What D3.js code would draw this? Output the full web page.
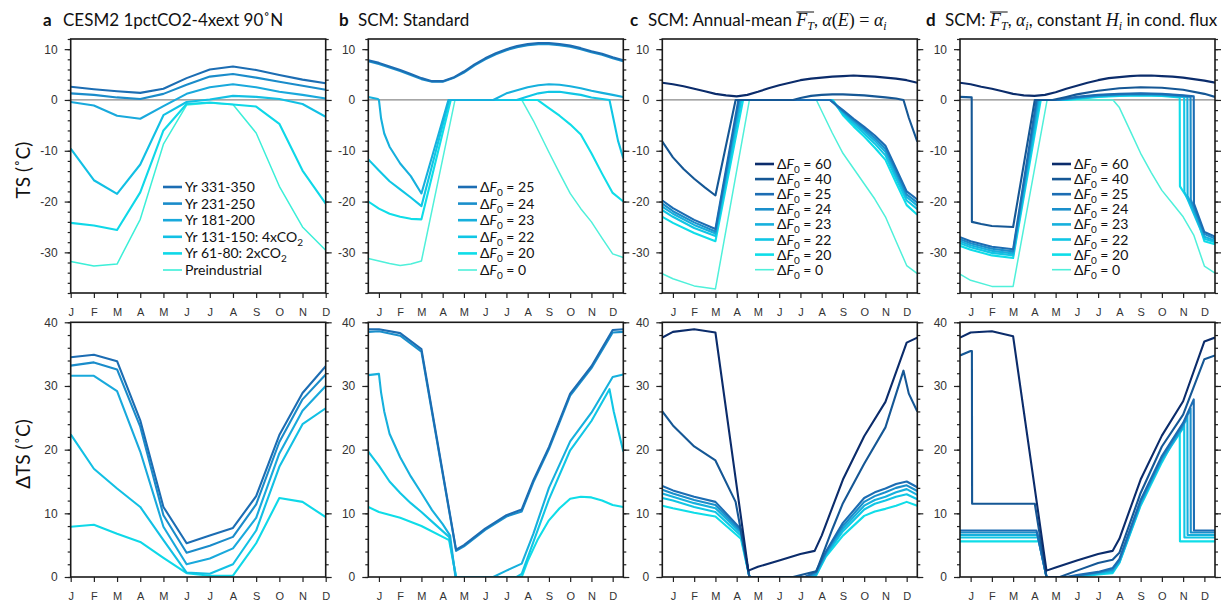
<!DOCTYPE html>
<html>
<head>
<meta charset="utf-8">
<title>TS seasonal cycle, CESM2 and SCM</title>
<style>
  body { margin: 0; background: #fff; }
  svg { display: block; }
  text { white-space: pre; }
</style>
</head>
<body>
<svg></svg>
<script src="https://d3js.org/d3.v7.min.js"></script>
<script>
// ---------- data ----------
var monthLabels = ["J","F","M","A","M","J","J","A","S","O","N","D"];
var monthNums = [1,2,3,4,5,6,7,8,9,10,11,12];

// panel a: CESM2 monthly TS (top) and dTS vs preindustrial (bottom)
var aNames = ["Yr 331-350", "Yr 231-250", "Yr 181-200", "Yr 131-150: 4xCO", "Yr 61-80: 2xCO", "Preindustrial"];
var aColors = ["#1c6db3", "#1a8cca", "#19a9dc", "#12c0e4", "#0fd8e8", "#3cefd8"];
var aTop331 = [2.6, 2.1, 1.7, 1.4, 2.2, 4.3, 6.0, 6.6, 5.9, 4.9, 4.0, 3.3];
var aTop231 = [1.3, 1.0, 0.5, 0.2, 1.2, 3.0, 4.6, 5.1, 4.4, 3.6, 2.8, 2.0];
var aTop181 = [-0.4, -1.1, -3.1, -3.7, -1.2, 1.2, 2.5, 3.1, 2.5, 1.6, 1.0, 0.3];
var aTop131 = [-9.6, -15.8, -18.5, -12.7, -3.0, -0.4, 0.1, 0.8, 0.6, 0.2, -0.8, -3.3];
var aTop61 = [-24.2, -24.7, -25.6, -18.2, -6.0, -0.8, -0.5, -0.9, -1.3, -4.7, -13.9, -20.4];
var aTopPI = [-31.8, -32.7, -32.3, -23.5, -8.7, -1.0, -0.6, -0.9, -6.5, -17.0, -25.0, -29.6];
var aDel331 = [34.5, 34.9, 33.9, 24.6, 11.0, 5.3, 6.5, 7.7, 12.7, 22.3, 28.9, 33.1];
var aDel231 = [33.2, 33.7, 32.6, 23.6, 9.7, 3.8, 4.9, 6.3, 11.4, 21.2, 27.9, 31.8];
var aDel181 = [31.6, 31.6, 29.2, 19.7, 7.9, 2.0, 2.9, 4.5, 9.3, 19.4, 26.1, 30.0];
var aDel131 = [22.4, 17.0, 13.9, 11.0, 5.8, 0.7, 0.5, 2.0, 7.3, 17.3, 24.0, 26.5];
var aDel61 = [7.9, 8.2, 6.8, 5.5, 3.0, 0.6, 0.2, 0.2, 5.3, 12.4, 11.8, 9.4];

// SCM runs: [month, value] pairs
var scmNames = ["60", "40", "25", "24", "23", "22", "20", "0"];
var scmColors = ["#0b2c6b", "#155795", "#1c6db3", "#1a8fcb", "#16b0dd", "#10c6e5", "#0fdde8", "#4ff0da"];

// panel b: standard
var bTop25 = [[0.5,7.8],[1,7.3],[1.5,6.6],[2,5.9],[2.5,5.1],[3,4.3],[3.5,3.7],[4,3.7],[4.5,4.4],[5,5.6],[5.5,7.0],[6,8.2],[6.5,9.2],[7,10.0],[7.5,10.6],[8,11.0],[8.5,11.2],[9,11.2],[9.5,11.0],[10,10.7],[10.5,10.2],[11,9.6],[11.5,9.1],[12,8.4],[12.5,7.8]];
var bTop24 = [[0.5,7.6],[1,7.1],[1.5,6.4],[2,5.7],[2.5,4.9],[3,4.1],[3.5,3.6],[4,3.6],[4.5,4.3],[5,5.4],[5.5,6.8],[6,8.0],[6.5,9.0],[7,9.8],[7.5,10.4],[8,10.8],[8.5,11.0],[9,11.0],[9.5,10.8],[10,10.5],[10.5,10.0],[11,9.4],[11.5,8.9],[12,8.2],[12.5,7.6]];
var bTop23 = [[0.5,0.6],[0.95,0.2],[1.0,0],[1.1,-3.6],[1.25,-6.6],[1.5,-9.2],[2,-12.5],[2.5,-15.0],[3,-18.4],[4.27,0],[6.38,0],[7,1.3],[7.5,1.9],[8,2.5],[8.5,2.9],[9,3.1],[9.5,3.0],[10,2.7],[10.5,2.3],[11,1.8],[11.5,1.4],[12,1.0],[12.5,0.6]];
var bTop22 = [[0.5,-11.7],[1,-13.9],[1.5,-16.0],[2,-17.6],[2.5,-19.2],[3,-20.9],[4.31,0],[7.48,0],[8,0.7],[8.5,1.3],[9,1.6],[9.5,1.6],[10,1.3],[10.5,1.0],[11,0.5],[11.85,0],[12.05,-4.0],[12.25,-8.0],[12.5,-11.5]];
var bTop20 = [[0.5,-20.0],[1,-21.4],[1.5,-22.4],[2,-23.0],[2.5,-23.4],[3,-23.5],[4.38,0],[8.46,0],[8.9,-1.3],[9.5,-3.1],[10,-4.8],[10.5,-6.8],[11,-10.5],[11.5,-14.5],[12,-18.3],[12.5,-20.0]];
var bTop0 = [[0.5,-31.2],[1,-31.7],[1.5,-32.2],[2,-32.6],[2.5,-32.3],[3,-31.7],[4.58,0],[7.72,0],[8.27,-4.1],[9,-10.3],[9.5,-14.4],[10,-18.4],[10.5,-21.4],[11,-24.0],[11.5,-27.2],[12,-30.3],[12.5,-31.0]];
var bDel25 = [[0.5,38.9],[1,38.9],[2,38.3],[3,35.8],[4.63,4.3],[5,5.0],[6,7.6],[7,9.7],[7.72,10.6],[8.27,15.2],[9,20.4],[10,28.8],[11,33.1],[12,38.8],[12.5,38.9]];
var bDel24 = [[0.5,38.5],[1,38.6],[2,37.9],[3,35.4],[4.63,4.1],[5,4.8],[6,7.4],[7,9.5],[7.72,10.3],[8.27,14.9],[9,20.1],[10,28.5],[11,32.8],[12,38.4],[12.5,38.5]];
var bDel23 = [[0.5,31.7],[1,31.9],[1.1,29.0],[1.25,26.0],[1.5,22.5],[2,18.8],[2.5,15.8],[3,13.2],[3.5,10.5],[4,8.3],[4.35,6.5],[4.6,0],[6.38,0],[7,1.0],[7.72,2.1],[8.27,6.8],[9,14.0],[10,21.3],[11,25.8],[12,31.4],[12.5,31.8]];
var bDel22 = [[0.5,19.7],[1,17.5],[1.5,15.0],[2,13.2],[2.5,11.6],[3,10.2],[3.5,8.7],[4.3,6.3],[4.63,0],[7.48,0],[7.72,0.5],[8.27,5.5],[9,12.2],[10,19.9],[11,24.5],[11.85,29.5],[12.05,26.0],[12.5,19.7]];
var bDel20 = [[0.5,11.0],[1,10.2],[2,9.3],[3,8.0],[4.3,5.8],[4.63,0],[7.72,0],[8.0,2.5],[8.46,5.8],[9,8.9],[9.5,10.8],[10,12.3],[10.5,12.6],[11,12.5],[11.5,12.0],[12,11.3],[12.5,11.0]];

// panel c: annual-mean F_T, alpha(E) = alpha_i
var cTop60 = [[0.5,3.4],[1,3.1],[1.5,2.7],[2,2.2],[2.5,1.7],[3,1.2],[3.5,0.9],[4,0.7],[4.5,1.0],[5,1.6],[5.5,2.3],[6,2.9],[6.5,3.4],[7,3.9],[7.5,4.2],[8,4.4],[8.5,4.6],[9,4.7],[9.5,4.8],[10,4.7],[10.5,4.6],[11,4.4],[11.5,4.2],[12,3.9],[12.5,3.4]];
var cTop40 = [[0.5,-8.2],[1,-11.3],[1.5,-13.6],[2,-15.5],[2.5,-17.2],[3,-18.8],[3.95,0],[6.65,0],[7,0.4],[7.5,0.8],[8,1.0],[8.5,1.1],[9,1.1],[9.5,1.0],[10,0.9],[10.5,0.7],[11,0.5],[11.5,0.3],[11.85,0],[12.1,-3.5],[12.5,-8.2]];
var cTop25 = [[0.5,-19.8],[1,-21.3],[2,-23.6],[3,-25.4],[4.08,0],[8.38,0],[9,-2.0],[9.5,-3.7],[10,-5.3],[10.5,-7.0],[11,-9.0],[11.5,-13.5],[12,-18.0],[12.5,-19.6]];
var cTop24 = [[0.5,-20.4],[1,-21.9],[2,-24.1],[3,-25.9],[4.12,0],[8.41,0],[9,-2.2],[9.5,-4.0],[10,-5.7],[10.5,-7.5],[11,-9.6],[11.5,-14.1],[12,-18.6],[12.5,-20.2]];
var cTop23 = [[0.5,-21.0],[1,-22.4],[2,-24.6],[3,-26.3],[4.17,0],[8.44,0],[9,-2.4],[9.5,-4.3],[10,-6.1],[10.5,-8.0],[11,-10.2],[11.5,-14.7],[12,-19.1],[12.5,-20.8]];
var cTop22 = [[0.5,-21.7],[1,-23.0],[2,-25.2],[3,-26.8],[4.22,0],[8.48,0],[9,-2.7],[9.5,-4.7],[10,-6.6],[10.5,-8.6],[11,-10.9],[11.5,-15.4],[12,-19.8],[12.5,-21.5]];
var cTop20 = [[0.5,-23.0],[1,-24.2],[2,-26.2],[3,-27.8],[4.3,0],[8.53,0],[9,-3.0],[9.5,-5.2],[10,-7.2],[10.5,-9.4],[11,-11.8],[11.5,-16.3],[12,-20.7],[12.5,-22.6]];
var cTop0 = [[0.5,-34.2],[1,-35.2],[2,-36.6],[3,-37.2],[4.6,0],[7.75,0],[8.5,-6.5],[9,-10.5],[9.5,-13.5],[10,-16.5],[10.5,-19.5],[11,-23.0],[11.5,-27.8],[12,-32.6],[12.5,-34.2]];
var cDel60 = [[0.5,37.6],[1,38.5],[2,38.9],[3,38.4],[4.55,1.0],[5,1.6],[6,2.6],[7,3.6],[7.67,4.1],[8,6.5],[9,15.3],[10,22.1],[11,27.5],[12,36.8],[12.5,37.6]];
var cDel40 = [[0.5,26.0],[1,23.8],[2,20.5],[3,18.3],[3.95,11.8],[4.6,0],[6.65,0],[7.5,0.7],[7.75,0.9],[8.5,7.5],[9,11.6],[10,17.8],[11,23.5],[11.85,32.4],[12.1,28.8],[12.5,26.0]];
var cDel25 = [[0.5,14.3],[1,13.6],[2,12.6],[3,11.8],[4.2,7.5],[4.6,0],[7.2,0],[7.72,0.8],[8.2,4.0],[9,8.5],[10,12.4],[10.5,13.3],[11,13.9],[11.5,14.6],[12,15.0],[12.5,14.1]];
var cDel24 = [[0.5,13.7],[1,13.1],[2,12.1],[3,11.3],[4.2,7.2],[4.6,0],[7.3,0],[7.72,0.6],[8.2,3.8],[9,8.0],[10,11.8],[10.5,12.7],[11,13.3],[11.5,14.0],[12,14.4],[12.5,13.5]];
var cDel23 = [[0.5,13.1],[1,12.6],[2,11.6],[3,10.8],[4.2,6.9],[4.6,0],[7.4,0],[7.72,0.4],[8.2,3.6],[9,7.6],[10,11.2],[10.5,12.1],[11,12.6],[11.5,13.3],[12,13.8],[12.5,12.9]];
var cDel22 = [[0.5,12.4],[1,12.0],[2,11.0],[3,10.2],[4.2,6.5],[4.6,0],[7.5,0],[7.72,0.2],[8.2,3.4],[9,7.2],[10,10.6],[10.5,11.5],[11,12.0],[11.5,12.6],[12,13.0],[12.5,12.2]];
var cDel20 = [[0.5,11.2],[1,10.8],[2,10.1],[3,9.5],[4.2,6.0],[4.6,0],[7.7,0],[8.2,3.2],[9,6.5],[10,9.6],[10.5,10.3],[11,10.7],[11.5,11.2],[12,11.8],[12.5,11.2]];

// panel d: F_T, alpha_i, constant H_i in conductive flux
var dTop60 = [[0.5,3.4],[1,3.1],[1.5,2.6],[2,2.2],[2.5,1.7],[3,1.2],[3.5,0.9],[4,0.8],[4.5,1.0],[5,1.5],[5.5,2.2],[6,2.8],[6.5,3.4],[7,3.9],[7.5,4.3],[8,4.5],[8.5,4.7],[9,4.8],[9.5,4.8],[10,4.7],[10.5,4.6],[11,4.4],[11.5,4.1],[12,3.8],[12.5,3.4]];
var dTop40 = [[0.5,0.6],[1.05,0.5],[1.06,-24.0],[1.5,-24.4],[2,-24.8],[3,-25.0],[4.02,0],[4.85,0],[5.5,0.6],[6,1.1],[7,1.8],[8,2.3],[9,2.5],[10,2.4],[11,2.0],[12,1.2],[12.5,0.6]];
var dTop25 = [[0.5,-27.0],[1,-27.8],[2,-28.9],[3,-29.4],[4.1,0],[5.0,0],[6,0.6],[7,1.0],[8,1.2],[9,1.3],[10,1.2],[11,0.9],[11.5,0.7],[11.51,-20.4],[12,-26.0],[12.5,-26.9]];
var dTop24 = [[0.5,-27.4],[1,-28.2],[2,-29.3],[3,-29.8],[4.15,0],[5.1,0],[6,0.5],[7,0.9],[8,1.1],[9,1.2],[10,1.1],[11,0.8],[11.35,0.6],[11.36,-19.6],[12,-26.4],[12.5,-27.3]];
var dTop23 = [[0.5,-27.8],[1,-28.6],[2,-29.7],[3,-30.2],[4.2,0],[5.2,0],[6,0.4],[7,0.8],[8,1.0],[9,1.1],[10,1.0],[11,0.7],[11.2,0.6],[11.21,-18.9],[12,-26.9],[12.5,-27.7]];
var dTop22 = [[0.5,-28.2],[1,-29.0],[2,-30.1],[3,-30.6],[4.25,0],[5.3,0],[6,0.3],[7,0.7],[8,0.9],[9,1.0],[10,0.9],[11,0.6],[11.05,0.5],[11.06,-18.1],[12,-27.3],[12.5,-28.0]];
var dTop20 = [[0.5,-28.7],[1,-29.5],[2,-30.6],[3,-31.1],[4.3,0],[5.5,0],[6,0.2],[7,0.6],[8,0.8],[9,0.9],[10,0.8],[10.84,0.5],[10.85,-17.0],[11.5,-21.2],[12,-27.8],[12.5,-28.4]];
var dTop0 = [[0.5,-34.3],[1,-35.5],[2,-36.7],[3,-36.7],[4.6,0],[7.7,0],[8,-1.5],[8.5,-6.0],[9,-10.5],[9.5,-14.3],[10,-17.8],[10.5,-20.4],[11,-23.0],[11.5,-26.6],[12,-32.7],[12.5,-34.1]];
var dDel60 = [[0.5,37.6],[1,38.4],[2,38.6],[3,37.8],[4.57,1.0],[5,1.5],[6,2.6],[7,3.6],[7.68,4.1],[8,6.0],[9,15.3],[10,22.2],[11,27.6],[12,37.0],[12.5,37.6]];
var dDel40 = [[0.5,34.8],[1,35.5],[1.06,35.5],[1.07,11.5],[4.02,11.5],[4.57,0],[5.2,0],[6,1.0],[7,2.2],[7.68,2.7],[8,3.8],[9,13.2],[10,20.5],[11,25.5],[12,34.2],[12.5,34.8]];
var dDel25 = [[0.5,7.3],[4.1,7.3],[4.57,0],[5.5,0],[6,0.3],[7,0.8],[7.68,1.4],[8,2.8],[9,12.1],[10,19.0],[11,24.2],[11.5,27.9],[11.51,7.3],[12.5,7.3]];
var dDel24 = [[0.5,7.0],[4.12,7.0],[4.57,0],[5.6,0],[6,0.2],[7,0.7],[7.68,1.2],[8,2.6],[9,11.8],[10,18.7],[11,23.9],[11.35,26.5],[11.36,7.0],[12.5,7.0]];
var dDel23 = [[0.5,6.6],[4.15,6.6],[4.57,0],[5.7,0],[6,0.1],[7,0.6],[7.68,1.0],[8,2.4],[9,11.6],[10,18.5],[11,23.6],[11.2,25.3],[11.21,6.6],[12.5,6.6]];
var dDel22 = [[0.5,6.2],[4.2,6.2],[4.57,0],[5.8,0],[7,0.5],[7.68,0.8],[8,2.3],[9,11.4],[10,18.3],[11,23.4],[11.05,23.9],[11.06,6.2],[12.5,6.2]];
var dDel20 = [[0.5,5.6],[4.25,5.6],[4.57,0],[6,0],[7,0.4],[7.68,0.6],[8,2.2],[9,11.2],[10,18.0],[10.84,23.2],[10.85,5.6],[12.5,5.6]];

// ---------- layout ----------
var W = 1225, H = 601;
var panelLeft = [70.7, 368.3, 662.3, 960];
var panelW = 255;
var rowTop = [39, 322.3], rowBot = [293, 577];
var topDomain = [-38, 12], botDomain = [0, 40];

var svg = d3.select("svg").attr("width", W).attr("height", H)
    .style("font-family", "'Liberation Sans', Arial, sans-serif");

function pairs(vals) { return vals.map(function(v, i) { return [monthNums[i], v]; }); }

// build series lists for every panel
var aTopSeries = [aTop331, aTop231, aTop181, aTop131, aTop61, aTopPI].map(function(v, i) {
    return {color: aColors[i], data: pairs(v), thin: i == 5}; });
var aDelSeries = [aDel331, aDel231, aDel181, aDel131, aDel61].map(function(v, i) {
    return {color: aColors[i], data: pairs(v)}; });

function scm(list, idx) {
    return list.map(function(d, i) { return {color: scmColors[idx[i]], data: d, thin: scmNames[idx[i]] == "0"}; });
}
var bTopSeries = scm([bTop25, bTop24, bTop23, bTop22, bTop20, bTop0], [2,3,4,5,6,7]);
var bDelSeries = scm([bDel25, bDel24, bDel23, bDel22, bDel20], [2,3,4,5,6]);
var cTopSeries = scm([cTop60, cTop40, cTop25, cTop24, cTop23, cTop22, cTop20, cTop0], [0,1,2,3,4,5,6,7]);
var cDelSeries = scm([cDel60, cDel40, cDel25, cDel24, cDel23, cDel22, cDel20], [0,1,2,3,4,5,6]);
var dTopSeries = scm([dTop60, dTop40, dTop25, dTop24, dTop23, dTop22, dTop20, dTop0], [0,1,2,3,4,5,6,7]);
var dDelSeries = scm([dDel60, dDel40, dDel25, dDel24, dDel23, dDel22, dDel20], [0,1,2,3,4,5,6]);

function drawPanel(col, row, series, xDomain) {
    var x0 = panelLeft[col], y0 = rowTop[row], y1 = rowBot[row];
    var x = d3.scaleLinear().domain(xDomain).range([x0, x0 + panelW]);
    var dom = row == 0 ? topDomain : botDomain;
    var y = d3.scaleLinear().domain(dom).range([y1, y0]);
    var g = svg.append("g");
    var cid = "clip" + col + "_" + row;
    g.append("clipPath").attr("id", cid).append("rect")
        .attr("x", x0).attr("y", y0).attr("width", panelW).attr("height", y1 - y0);

    var major = row == 0 ? [10, 0, -10, -20, -30] : [0, 10, 20, 30, 40];
    var minor = d3.range(dom[0], dom[1] + 0.1, 2);

    // y axes, left with labels and right without
    var left = g.append("g").attr("transform", "translate(" + x0 + ",0)")
        .call(d3.axisLeft(y).tickValues(major).tickSize(6).tickPadding(7).tickFormat(function(d) { return String(d); }));
    left.selectAll("text").style("font-size", "12px").style("fill", "#333").style("font-family", "'Liberation Sans', Arial, sans-serif");
    g.append("g").attr("transform", "translate(" + x0 + ",0)")
        .call(d3.axisLeft(y).tickValues(minor).tickSize(3).tickFormat(""));
    g.append("g").attr("transform", "translate(" + (x0 + panelW) + ",0)")
        .call(d3.axisRight(y).tickValues(major).tickSize(6).tickFormat(""));
    g.append("g").attr("transform", "translate(" + (x0 + panelW) + ",0)")
        .call(d3.axisRight(y).tickValues(minor).tickSize(3).tickFormat(""));
    var bottom = g.append("g").attr("transform", "translate(0," + y1 + ")")
        .call(d3.axisBottom(x).tickValues(monthNums).tickSize(5).tickPadding(10)
            .tickFormat(function(d, i) { return monthLabels[i]; }));
    bottom.selectAll("text").style("font-size", "11px").style("fill", "#333").style("font-family", "'Liberation Sans', Arial, sans-serif");
    g.selectAll(".domain").remove();
    g.selectAll(".tick line").attr("stroke", "#222").attr("stroke-width", 1.2);

    if (row == 0) {
        g.append("line").attr("x1", x0).attr("x2", x0 + panelW)
            .attr("y1", y(0)).attr("y2", y(0)).attr("stroke", "#888").attr("stroke-width", 1.2);
    }

    var line = d3.line().x(function(d) { return x(d[0]); }).y(function(d) { return y(d[1]); });
    var lg = g.append("g").attr("clip-path", "url(#" + cid + ")");
    // draw light lines first so the darker ones sit on top
    series.slice().reverse().forEach(function(s) {
        lg.append("path").datum(s.data).attr("d", line)
            .attr("fill", "none").attr("stroke", s.color)
            .attr("stroke-width", s.thin ? 1.5 : 2.1)
            .attr("stroke-linejoin", "round");
    });

    g.append("rect").attr("x", x0).attr("y", y0).attr("width", panelW).attr("height", y1 - y0)
        .attr("fill", "none").attr("stroke", "#1a1a1a").attr("stroke-width", 1.6);
}

drawPanel(0, 0, aTopSeries, [1, 12]);
drawPanel(0, 1, aDelSeries, [1, 12]);
drawPanel(1, 0, bTopSeries, [0.5, 12.5]);
drawPanel(1, 1, bDelSeries, [0.5, 12.5]);
drawPanel(2, 0, cTopSeries, [0.5, 12.5]);
drawPanel(2, 1, cDelSeries, [0.5, 12.5]);
drawPanel(3, 0, dTopSeries, [0.5, 12.5]);
drawPanel(3, 1, dDelSeries, [0.5, 12.5]);

// ---------- legends ----------
function legendA(lx, ly, dy) {
    aNames.forEach(function(n, i) {
        var yy = ly + i * dy;
        svg.append("line").attr("x1", lx).attr("x2", lx + 19).attr("y1", yy).attr("y2", yy)
            .attr("stroke", aColors[i]).attr("stroke-width", i == 5 ? 1.6 : 2.6);
        var t = svg.append("text").attr("x", lx + 22).attr("y", yy + 5)
            .style("font-family", "Lato, sans-serif").style("font-size", "14px").style("fill", "#111");
        t.append("tspan").text(n);
        if (i == 3 || i == 4) {
            t.append("tspan").attr("dy", 4).style("font-size", "10px").text("2");
        }
    });
}
function legendSCM(lx, ly, dy, idx) {
    idx.forEach(function(k, i) {
        var yy = ly + i * dy;
        svg.append("line").attr("x1", lx).attr("x2", lx + 19).attr("y1", yy).attr("y2", yy)
            .attr("stroke", scmColors[k]).attr("stroke-width", scmNames[k] == "0" ? 1.6 : 2.6);
        var t = svg.append("text").attr("x", lx + 22).attr("y", yy + 5)
            .style("font-family", "Lato, sans-serif").style("font-size", "14px").style("fill", "#111");
        t.append("tspan").text("\u0394");
        t.append("tspan").style("font-style", "italic").text("F");
        t.append("tspan").attr("dy", 4).style("font-size", "10px").text("0");
        t.append("tspan").attr("dy", -4).text(" = " + scmNames[k]);
    });
}
legendA(163, 187, 16.6);
legendSCM(458, 187, 16.6, [2,3,4,5,6,7]);
legendSCM(755, 164, 15.1, [0,1,2,3,4,5,6,7]);
legendSCM(1052, 164, 15.1, [0,1,2,3,4,5,6,7]);

// ---------- titles ----------
function rich(x, y, parts) {
    var cx = x, ovStart = null;
    parts.forEach(function(p) {
        var t = svg.append("text").attr("x", cx).attr("y", y + (p.sub ? 4 : 0))
            .style("font-family", p.math ? "'Liberation Serif', 'DejaVu Serif', serif" : "Lato, sans-serif")
            .style("font-size", (p.sub ? 12 : (p.math ? 18 : 17)) + "px")
            .style("font-style", p.it ? "italic" : "normal")
            .style("font-weight", p.bold ? "bold" : "normal")
            .style("fill", "#111")
            .text(p.t);
        if (p.ovs) ovStart = cx;
        cx += t.node().getComputedTextLength();
        if (p.ove) {
            svg.append("line").attr("x1", ovStart).attr("x2", cx).attr("y1", y - 14).attr("y2", y - 14)
                .attr("stroke", "#111").attr("stroke-width", 1);
        }
    });
}
rich(43, 26, [{t: "a", bold: true}]);
rich(63, 26, [{t: "CESM2 1pctCO2-4xext 90\u02DAN"}]);
rich(339, 26, [{t: "b", bold: true}]);
rich(358, 26, [{t: "SCM: Standard"}]);
rich(630, 26, [{t: "c", bold: true}]);
rich(648, 26, [{t: "SCM: Annual-mean "}, {t: "F", math: true, it: true, ovs: true},
    {t: "T", math: true, it: true, sub: true, ove: true}, {t: ", "},
    {t: "\u03B1", math: true, it: true}, {t: "(", math: true}, {t: "E", math: true, it: true},
    {t: ") = ", math: true}, {t: "\u03B1", math: true, it: true}, {t: "i", math: true, it: true, sub: true}]);
rich(926, 26, [{t: "d", bold: true}]);
rich(945, 26, [{t: "SCM: "}, {t: "F", math: true, it: true, ovs: true},
    {t: "T", math: true, it: true, sub: true, ove: true}, {t: ", "},
    {t: "\u03B1", math: true, it: true}, {t: "i", math: true, it: true, sub: true},
    {t: ", constant "}, {t: "H", math: true, it: true}, {t: "i", math: true, it: true, sub: true},
    {t: " in cond. flux"}]);

// ---------- y labels ----------
svg.append("text").attr("transform", "translate(30,170) rotate(-90)")
    .attr("text-anchor", "middle").style("font-family", "Lato, sans-serif").style("font-size", "19px")
    .style("fill", "#111").text("TS (\u02DAC)");
svg.append("text").attr("transform", "translate(30,454) rotate(-90)")
    .attr("text-anchor", "middle").style("font-family", "Lato, sans-serif").style("font-size", "19px")
    .style("fill", "#111").text("\u0394TS (\u02DAC)");
</script>
</body>
</html>
